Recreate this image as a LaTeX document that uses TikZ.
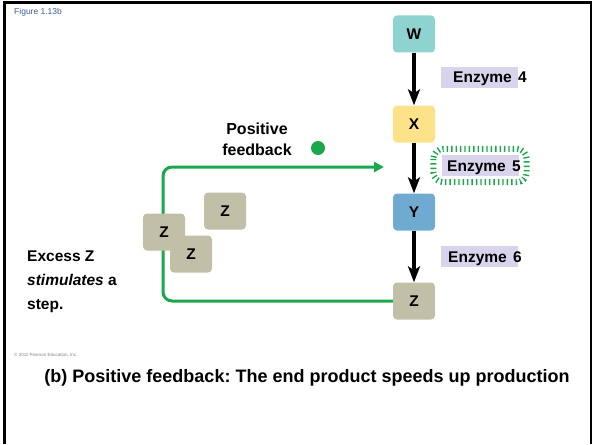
\documentclass[tikz,border=0pt]{standalone}
\usepackage{fontspec}
\setmainfont{Liberation Sans}
\usetikzlibrary{arrows.meta}

\definecolor{wcol}{HTML}{8FD3D1}
\definecolor{xcol}{HTML}{FDE28A}
\definecolor{ycol}{HTML}{6FAAD0}
\definecolor{zcol}{HTML}{C2BFA8}
\definecolor{enzcol}{HTML}{D9D4EC}
\definecolor{fbgreen}{HTML}{1BA84C}
\definecolor{figblue}{HTML}{3A5C9E}

\begin{document}
\frenchspacing
\begin{tikzpicture}[x=1pt,y=-1pt,
    molbox/.style={rounded corners=4pt,minimum width=42pt,minimum height=37pt,inner sep=0pt,font=\bfseries\fontsize{15.5}{15}\selectfont},
    enzbar/.style={fill=enzcol,minimum width=77pt,minimum height=21pt,inner sep=0pt},
    enzlabel/.style={anchor=base west,inner sep=0pt,font=\bfseries\fontsize{15.5}{16}\selectfont},
    pathway/.style={line width=3.5pt,-{Stealth[length=16pt,width=12pt,inset=4pt]}},
    feedback/.style={draw=fbgreen,line width=3pt,rounded corners=9pt,-{Triangle[length=10pt,width=10pt]}},
    halo/.style={draw=fbgreen,line width=6pt,dash pattern=on 1.4pt off 3pt,rounded corners=10pt}]
    \useasboundingbox (0,0) rectangle (596,444);
    \draw[line width=2.5pt] (4.5,444) -- (4.5,2.5) -- (591,2.5) -- (591,444);

    \node[anchor=base west,inner sep=0pt,text=figblue,font=\fontsize{8.5}{9}\selectfont] (figno) at (14,15) {Figure 1.13b};

    % pathway
    \node[molbox,fill=wcol] (W) at (414,34) {W};
    \node[molbox,fill=xcol] (X) at (414,124) {X};
    \node[molbox,fill=ycol] (Y) at (414,212) {Y};
    \node[molbox,fill=zcol] (Z) at (414,301) {Z};

    \draw[pathway] (W) -- (X);
    \draw[pathway] (X) -- (Y);
    \draw[pathway] (Y) -- (Z);

    \node[enzbar] (e4bar) at (479.5,77) {};
    \node[enzbar] (e5bar) at (480,165.5) {};
    \node[enzbar] (e6bar) at (479.5,256) {};
    \draw[halo] ([shift={(-8,-6)}]e5bar.north west) rectangle ([shift={(8,6)}]e5bar.south east);
    \node[enzlabel] (e4) at (453,82) {Enzyme\hspace{2pt} 4};
    \node[enzlabel] (e5) at (447,171) {Enzyme\hspace{2pt} 5};
    \node[enzlabel] (e6) at (448,262) {Enzyme\hspace{2pt} 6};

    % feedback loop
    \coordinate (fbend) at (384,167);
    \draw[feedback] (Z.west) -- (163,301) |- (fbend);
    \node[circle,fill=fbgreen,minimum size=14pt,inner sep=0pt] (fbdot) at (318,148) {};
    \node[align=center,inner sep=0pt,font=\bfseries\fontsize{16}{21}\selectfont] (fblabel) at (257,139) {Positive\\feedback};

    % excess Z
    \node[molbox,fill=zcol] (z1) at (164,232) {\raisebox{-5pt}{Z}};
    \node[molbox,fill=zcol] (z2) at (191,254) {\raisebox{-6pt}{Z}};
    \node[molbox,fill=zcol] (z3) at (225,211) {Z};

    \node[anchor=north west,align=left,inner sep=0pt,font=\bfseries\fontsize{15.5}{24}\selectfont] (excess) at (27,251) {Excess Z\\\textit{stimulates} a\\step.};

    \node[anchor=base west,inner sep=0pt,text=gray,font=\fontsize{4.5}{5}\selectfont] (copy) at (14,356) {\textcopyright\ 2011 Pearson Education, Inc.};
    \node[anchor=base,inner sep=0pt,font=\bfseries\fontsize{18}{18}\selectfont] (caption) at (307,382) {(b) Positive feedback: The end product speeds up production};
\end{tikzpicture}
\end{document}
